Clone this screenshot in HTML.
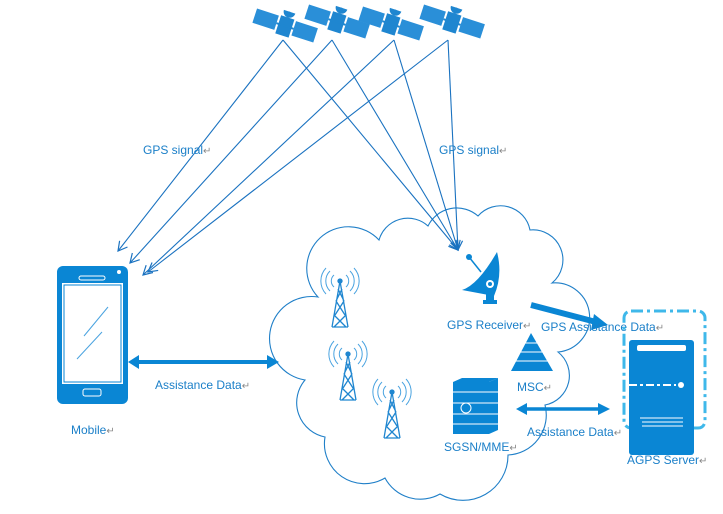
<!DOCTYPE html>
<html><head><meta charset="utf-8"><style>
body{margin:0;background:#fff;}
svg text{font-family:"Liberation Sans",sans-serif;font-size:12px;fill:#1a7fc8;}
svg text tspan.r{fill:#888;font-size:10px;}
</style></head><body>
<svg width="723" height="509" viewBox="0 0 723 509" xmlns="http://www.w3.org/2000/svg">
<defs>
<marker id="ah" markerWidth="12" markerHeight="12" refX="10" refY="6" orient="auto" markerUnits="userSpaceOnUse">
<path d="M1,1 L10,6 L1,11" fill="none" stroke="#1a72c0" stroke-width="1.2"/></marker>
<g id="sat">
<g transform="rotate(18)">
<rect x="-32" y="-8" width="23" height="15" fill="#2a8fd8"/>
<rect x="9" y="-8" width="23" height="15" fill="#2a8fd8"/>
<rect x="-7" y="-9" width="14" height="19" fill="#1f86d0"/>
<line x1="-9" y1="0" x2="9" y2="0" stroke="#1f86d0" stroke-width="2"/>
<path d="M-6,-15 A6,6 0 0,0 6,-15 Z" fill="#1f86d0"/>
<line x1="0" y1="-15" x2="0" y2="-9" stroke="#1f86d0" stroke-width="2"/>
</g></g>
<g id="tower" fill="none" stroke="#1f86d0" stroke-width="1.3">
<path d="M0,0 L-8,46 M0,0 L8,46 M-8,46 L8,46 M-6,34 L6,46 M6,34 L-6,46 M-4,20 L5,34 M4,20 L-5,34 M-2,8 L4,20 M2,8 L-4,20"/>
<path d="M-6,-6 A8,8 0 0,0 -6,6 M6,-6 A8,8 0 0,1 6,6 M-10,-10 A14,14 0 0,0 -10,10 M10,-10 A14,14 0 0,1 10,10 M-14,-13 A19,19 0 0,0 -14,13 M14,-13 A19,19 0 0,1 14,13" stroke="#4aa3e0" stroke-width="1"/>
<circle cx="0" cy="0" r="2" fill="#1f86d0"/>
</g>
</defs>

<use href="#sat" x="285" y="26"/>
<use href="#sat" x="337" y="22"/>
<use href="#sat" x="391" y="24"/>
<use href="#sat" x="452" y="22"/>

<path d="M318,297 A36,36 0 0,1 379,240 A30,30 0 0,1 428,226 A32,32 0 0,1 478,216 A30,30 0 0,1 530,230 A30,30 0 0,1 552,283 A32,32 0 0,1 558,352 A30,30 0 0,1 545,405 A40,40 0 0,1 508,455 A45,45 0 0,1 440,494 A40,40 0 0,1 385,478 A40,40 0 0,1 325,437 A35,35 0 0,1 305,380 A35,35 0 0,1 318,297 Z" fill="#fff" stroke="#1f7fc8" stroke-width="1.1"/>

<g stroke="#1a72c0" stroke-width="1.1" fill="none" marker-end="url(#ah)">
<line x1="283" y1="40" x2="118" y2="251"/>
<line x1="332" y1="40" x2="130" y2="263"/>
<line x1="394" y1="40" x2="143" y2="275"/>
<line x1="448" y1="40" x2="148" y2="272"/>
<line x1="283" y1="40" x2="458" y2="250"/>
<line x1="332" y1="40" x2="458" y2="250"/>
<line x1="394" y1="40" x2="458" y2="250"/>
<line x1="448" y1="40" x2="458" y2="250"/>
</g>
<text x="143" y="154">GPS signal<tspan class="r">↵</tspan></text>
<text x="439" y="154">GPS signal<tspan class="r">↵</tspan></text>

<use href="#tower" x="340" y="281"/>
<use href="#tower" x="348" y="354"/>
<use href="#tower" x="392" y="392"/>

<rect x="57" y="266" width="71" height="138" rx="6" fill="#0a86d4"/>
<rect x="62" y="283" width="61" height="101" fill="#fff"/>
<rect x="64" y="285" width="57" height="97" fill="#fff" stroke="#0a86d4" stroke-width="1"/>
<rect x="79" y="276" width="26" height="4" rx="2" fill="none" stroke="#fff" stroke-width="1"/>
<circle cx="119" cy="272" r="2" fill="#fff"/>
<rect x="83" y="389" width="18" height="7" rx="2" fill="none" stroke="#fff" stroke-width="1"/>
<line x1="84" y1="336" x2="108" y2="307" stroke="#4aa3e0"/>
<line x1="77" y1="359" x2="102" y2="332" stroke="#4aa3e0"/>
<text x="71" y="434">Mobile<tspan class="r">↵</tspan></text>

<line x1="138" y1="362" x2="268" y2="362" stroke="#0a86d4" stroke-width="4"/>
<polygon points="128,362 139,355 139,369" fill="#0a86d4"/>
<polygon points="279,362 267,355 267,369" fill="#0a86d4"/>
<text x="155" y="389">Assistance Data<tspan class="r">↵</tspan></text>

<g fill="#0a86d4">
<path d="M497,252 Q478,285 462,290 L494,296 Q503,275 497,252 Z"/>
<circle cx="490" cy="284" r="4" fill="#fff"/><circle cx="490" cy="284" r="2"/>
<rect x="486" y="292" width="8" height="10"/>
<rect x="483" y="300" width="14" height="4"/>
<circle cx="469" cy="257" r="3"/>
<line x1="469" y1="257" x2="481" y2="272" stroke="#0a86d4" stroke-width="1.5"/>
</g>
<text x="447" y="329">GPS Receiver<tspan class="r">↵</tspan></text>

<line x1="531" y1="305" x2="596" y2="322" stroke="#0a86d4" stroke-width="6"/>
<polygon points="608,325 594,314 591,330" fill="#0a86d4"/>
<text x="541" y="331">GPS Assistance Data<tspan class="r">↵</tspan></text>

<polygon points="531,333 511,371 553,371" fill="#0a86d4"/>
<line x1="516" y1="361" x2="549" y2="361" stroke="#fff"/>
<line x1="520" y1="352" x2="544" y2="352" stroke="#fff"/>
<line x1="525" y1="343" x2="538" y2="343" stroke="#fff"/>
<text x="517" y="391">MSC<tspan class="r">↵</tspan></text>

<g fill="#0a86d4">
<rect x="453" y="382" width="36" height="52"/>
<polygon points="453,382 462,378 498,378 489,382"/>
<polygon points="489,382 498,378 498,430 489,434"/>
</g>
<g stroke="#fff" stroke-width="1"><line x1="453" y1="392" x2="498" y2="392"/><line x1="453" y1="403" x2="498" y2="403"/><line x1="453" y1="414" x2="498" y2="414"/><line x1="453" y1="424" x2="498" y2="424"/></g>
<circle cx="466" cy="408" r="5" fill="none" stroke="#fff"/>
<text x="444" y="451">SGSN/MME<tspan class="r">↵</tspan></text>

<line x1="525" y1="409" x2="600" y2="409" stroke="#0a86d4" stroke-width="3.5"/>
<polygon points="516,409 527,403 527,415" fill="#0a86d4"/>
<polygon points="610,409 598,403 598,415" fill="#0a86d4"/>
<text x="527" y="436">Assistance Data<tspan class="r">↵</tspan></text>

<rect x="624" y="311" width="81" height="117" rx="7" fill="none" stroke="#3fb8ea" stroke-width="3" stroke-dasharray="12,4,3,4"/>
<rect x="629" y="340" width="65" height="115" rx="3" fill="#0a86d4"/>
<rect x="637" y="345" width="49" height="6" rx="2" fill="#fff"/>
<line x1="629" y1="385" x2="676" y2="385" stroke="#fff" stroke-width="2" stroke-dasharray="8,3,3,3"/>
<circle cx="681" cy="385" r="3" fill="#fff"/>
<g stroke="#fff"><line x1="640" y1="418" x2="683" y2="418"/><line x1="642" y1="422" x2="683" y2="422"/><line x1="642" y1="426" x2="683" y2="426"/></g>
<text x="627" y="464">AGPS Server<tspan class="r">↵</tspan></text>
</svg>
</body></html>
